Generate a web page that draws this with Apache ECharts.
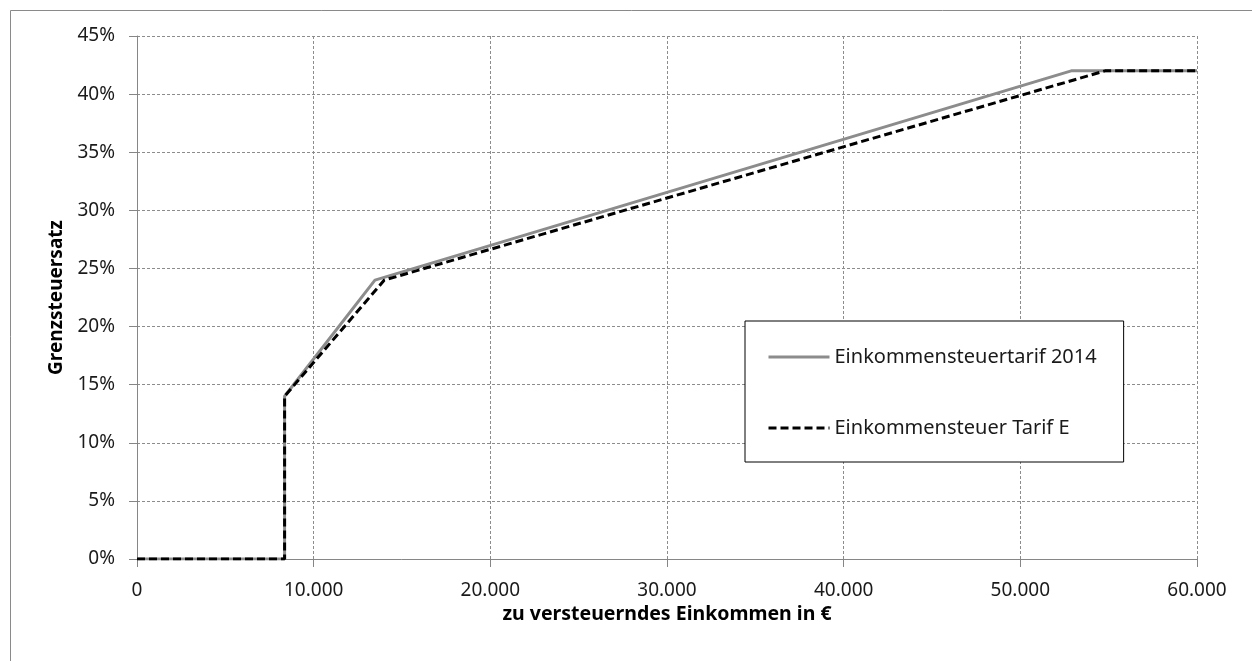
<!DOCTYPE html>
<html><head><meta charset="utf-8">
<script src="https://cdn.jsdelivr.net/npm/echarts@6/dist/echarts.min.js"></script>
<style>html,body{margin:0;padding:0;background:#fff}#c{width:1252px;height:661px}</style>
</head><body><div id="c"></div>
<script>
// Income (€) and marginal rate (%) breakpoints
const tarif2014X = [0, 8354, 8354, 13469, 52881, 60000];
const tarif2014Y = [0, 0, 14, 24, 42, 42];
const tarifEX = [0, 8354, 8354, 14000, 54800, 60000];
const tarifEY = [0, 0, 14, 24, 42, 42];
const seriesNames = ['Einkommensteuertarif 2014', 'Einkommensteuer Tarif E'];
const xTicks = { min: 0, max: 60000, interval: 10000 };
const yTicks = { min: 0, max: 45, interval: 5 };

const pair = (xs, ys) => xs.map((x, i) => [x, ys[i]]);
const fmtThousands = v => v === 0 ? '0' : String(v).replace(/\B(?=(\d{3})+(?!\d))/g, '.');
const FONT = 'Noto Sans';

const chart = echarts.init(document.getElementById('c'));
chart.setOption({
  animation: false,
  backgroundColor: '#fff',
  graphic: [{
    type: 'rect', shape: { x: 10.5, y: 10.5, width: 1300, height: 700 },
    style: { fill: 'none', stroke: '#8a8a8a', lineWidth: 1 }, silent: true
  }],
  grid: { left: 137, right: 55, top: 36, bottom: 102 },
  xAxis: {
    type: 'value', min: xTicks.min, max: xTicks.max, interval: xTicks.interval,
    name: 'zu versteuerndes Einkommen in €', nameLocation: 'middle', nameGap: 38,
    nameTextStyle: { fontFamily: FONT, fontSize: 19.5, fontWeight: 'bold', color: '#000' },
    axisLine: { show: true, lineStyle: { color: '#868686', width: 1 } },
    axisTick: { show: true, length: 8, inside: false, lineStyle: { color: '#868686' } },
    axisLabel: { formatter: fmtThousands, fontFamily: FONT, fontSize: 19, color: '#1a1a1a', margin: 22 },
    splitLine: { show: true, lineStyle: { color: '#8c8c8c', type: [3, 2], width: 1 } }
  },
  yAxis: {
    type: 'value', min: yTicks.min, max: yTicks.max, interval: yTicks.interval,
    name: 'Grenzsteuersatz', nameLocation: 'middle', nameGap: 63,
    nameTextStyle: { fontFamily: FONT, fontSize: 19, fontWeight: 'bold', color: '#000' },
    axisLine: { show: true, lineStyle: { color: '#868686', width: 1 } },
    axisTick: { show: true, length: 8, lineStyle: { color: '#868686' } },
    axisLabel: { formatter: v => v + '%', fontFamily: FONT, fontSize: 19, color: '#1a1a1a', margin: 22 },
    splitLine: { show: true, lineStyle: { color: '#8c8c8c', type: [3, 2], width: 1 } }
  },
  legend: {
    orient: 'vertical', left: 745, top: 321,
    padding: [26, 27, 24, 22], itemGap: 51, itemWidth: 61, itemHeight: 14,
    borderColor: '#000', borderWidth: 1, backgroundColor: '#fff',
    itemStyle: { opacity: 0 },
    lineStyle: { width: 3 },
    textStyle: { fontFamily: FONT, fontSize: 20, color: '#1a1a1a', lineHeight: 20 },
    data: seriesNames
  },
  series: [
    {
      name: seriesNames[0], type: 'line', data: pair(tarif2014X, tarif2014Y),
      symbol: 'none', lineStyle: { color: '#8c8c8c', width: 3 }, itemStyle: { color: '#8c8c8c' }, z: 2
    },
    {
      name: seriesNames[1], type: 'line', data: pair(tarifEX, tarifEY),
      symbol: 'none', lineStyle: { color: '#000', width: 3, type: [8, 4] }, itemStyle: { color: '#000' }, z: 3
    }
  ]
});
</script></body></html>
